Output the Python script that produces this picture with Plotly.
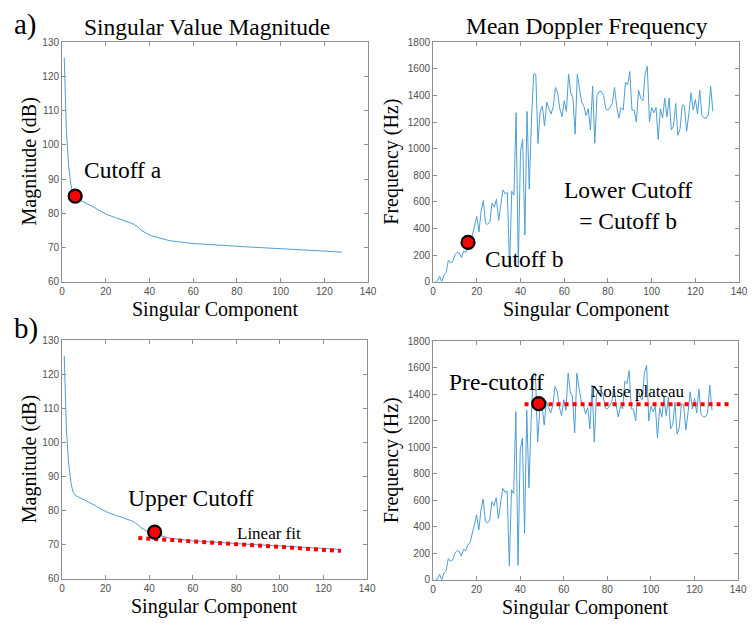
import plotly.graph_objects as go

W, H = 754, 625

# Singular component index (1..128)
components = list(range(1, 129))

# Singular value magnitude (dB) per component
magnitude_db = [
    125.5, 104.0, 94.0, 88.5, 85.5, 84.6, 84.2, 83.9, 83.6, 83.3,
    83.0, 82.7, 82.4, 82.1, 81.6, 81.2, 80.8, 80.4, 80.1, 79.8,
    79.5, 79.2, 79.0, 78.8, 78.6, 78.4, 78.2, 78.0, 77.7, 77.4,
    77.2, 77.0, 76.7, 76.3, 75.8, 75.1, 74.7, 74.3, 73.9, 73.6,
    73.4, 73.2, 73.0, 72.8, 72.6, 72.4, 72.2, 72.1, 72.0, 71.9,
    71.8, 71.7, 71.6, 71.5, 71.45, 71.4, 71.3, 71.25, 71.2, 71.15,
    71.1, 71.05, 71.0, 70.97, 70.94, 70.9, 70.87, 70.84, 70.8, 70.77,
    70.73, 70.7, 70.66, 70.62, 70.58, 70.54, 70.5, 70.45, 70.4, 70.35,
    70.3, 70.26, 70.22, 70.18, 70.14, 70.1, 70.06, 70.02, 69.98, 69.94,
    69.9, 69.86, 69.82, 69.78, 69.74, 69.7, 69.66, 69.62, 69.58, 69.54,
    69.5, 69.47, 69.44, 69.41, 69.38, 69.35, 69.32, 69.29, 69.26, 69.23,
    69.2, 69.17, 69.14, 69.11, 69.08, 69.05, 69.02, 68.99, 68.96, 68.93,
    68.9, 68.86, 68.82, 68.78, 68.74, 68.7, 68.65, 68.6,
]

# Mean Doppler frequency (Hz) per component
doppler_hz = [
    0, 5, 40, 0, 50, 70, 160, 140, 150, 200,
    220, 215, 180, 230, 220, 265, 280, 350, 400, 490,
    375, 530, 610, 440, 430, 450, 590, 560, 620, 460,
    580, 690, 660, 670, 105, 680, 650, 1270, 110, 980,
    1070, 350, 1280, 695, 1200, 1560, 1560, 1040, 1280, 1320,
    1170, 1350, 1300, 1260, 1320, 1460, 1420, 1300, 1240, 1360,
    1280, 1560, 1420, 1380, 1110, 1560, 1450, 1350, 1320, 1250,
    1300, 1140, 1470, 1040, 1400, 1430, 1430, 1400, 1300, 1290,
    1310, 1340, 1460, 1320, 1230, 1310, 1290, 1500, 1480, 1580,
    1290, 1290, 1200, 1440, 1380, 1360, 1560, 1620, 1200, 1310,
    1270, 1310, 1070, 1300, 1230, 1380, 1240, 1380, 1140, 1170,
    1340, 1100, 1150, 1330, 1320, 1130, 1260, 1420, 1290, 1370,
    1260, 1440, 1250, 1230, 1230, 1260, 1470, 1280,
]

# Marked cutoff points
cutoff_a = (6, 85.0)
cutoff_b = (16, 295)
upper_cutoff = (42.5, 73.7)
pre_cutoff = (48.5, 1330)

# Linear fit to the magnitude tail and the Doppler noise plateau
fit_x = [35, 128]
fit_y = [72.0, 68.2]
plateau_x = [42, 136]
plateau_y = [1325, 1325]

x_ticks = [0, 20, 40, 60, 80, 100, 120, 140]
mag_ticks = [60, 70, 80, 90, 100, 110, 120, 130]
freq_ticks = [0, 200, 400, 600, 800, 1000, 1200, 1400, 1600, 1800]

LINE = "rgb(77,158,214)"
FRAME = "#8f8f8f"
TICKTXT = "#505050"
SERIF = "Liberation Serif, Times New Roman, serif"
SANS = "Liberation Sans, Arial, sans-serif"


def px_x(x):
    return x / W


def px_y(y):
    return 1 - y / H


# panel boxes in pixels: (left, right, top, bottom)
boxes = {
    1: (60, 371, 37, 281),
    2: (437, 748, 37, 281),
    3: (60, 370, 341, 584),
    4: (437, 747, 342, 585),
}

fig = go.Figure()

layout = dict(
    width=W, height=H,
    margin=dict(l=0, r=0, t=0, b=0),
    paper_bgcolor="white", plot_bgcolor="white",
    showlegend=False,
)


def axis_common():
    return dict(
        showgrid=False, zeroline=False,
        showline=True, linecolor=FRAME, linewidth=1, mirror="ticks",
        ticks="inside", ticklen=4, tickcolor=FRAME, tickwidth=1,
        tickfont=dict(family=SANS, size=10, color=TICKTXT),
    )


for i, (l, r, t, b) in boxes.items():
    sfx = "" if i == 1 else str(i)
    xa = axis_common()
    xa.update(domain=[px_x(l), px_x(r)], range=[0, 140], tickvals=x_ticks,
              anchor="y" + sfx)
    ya = axis_common()
    if i in (1, 3):
        ya.update(range=[60, 130], tickvals=mag_ticks)
    else:
        ya.update(range=[0, 1800], tickvals=freq_ticks)
    ya.update(domain=[px_y(b), px_y(t)], anchor="x" + sfx)
    layout["xaxis" + sfx] = xa
    layout["yaxis" + sfx] = ya


def add_curve(i, y):
    sfx = "" if i == 1 else str(i)
    fig.add_trace(go.Scatter(x=components, y=y, mode="lines",
                             line=dict(color=LINE, width=1),
                             xaxis="x" + sfx, yaxis="y" + sfx))


def add_dot(i, pt):
    sfx = "" if i == 1 else str(i)
    fig.add_trace(go.Scatter(x=[pt[0]], y=[pt[1]], mode="markers",
                             marker=dict(color="red", size=13,
                                         line=dict(color="black", width=2.2)),
                             xaxis="x" + sfx, yaxis="y" + sfx))


def add_dotted(i, xs, ys):
    sfx = "" if i == 1 else str(i)
    fig.add_trace(go.Scatter(x=xs, y=ys, mode="lines",
                             line=dict(color="red", width=4, dash="dot"),
                             xaxis="x" + sfx, yaxis="y" + sfx))


add_curve(1, magnitude_db)
add_dot(1, cutoff_a)

add_curve(2, doppler_hz)
add_dot(2, cutoff_b)

add_curve(3, magnitude_db)
add_dotted(3, fit_x, fit_y)
add_dot(3, upper_cutoff)

add_curve(4, doppler_hz)
add_dotted(4, plateau_x, plateau_y)
add_dot(4, pre_cutoff)

annotations = []


def paper_text(text, x, y, size, angle=0):
    annotations.append(dict(text=text, x=px_x(x), y=px_y(y), xref="paper",
                            yref="paper", showarrow=False, textangle=angle,
                            xanchor="center", yanchor="middle",
                            font=dict(family=SERIF, size=size, color="black")))


def data_text(i, text, x, y, size):
    sfx = "" if i == 1 else str(i)
    annotations.append(dict(text=text, x=x, y=y, xref="x" + sfx, yref="y" + sfx,
                            showarrow=False, xanchor="center", yanchor="middle",
                            font=dict(family=SERIF, size=size, color="black")))


# panel labels and titles
paper_text("a)", 23, 19, 29)
paper_text("b)", 23, 329, 29)
paper_text("Singular Value Magnitude", 207, 21, 23.5)
paper_text("Mean Doppler Frequency", 593, 20, 23.5)

# axis titles
for i, (l, r, t, b) in boxes.items():
    paper_text("Singular Component", (l + r) / 2, b + 28, 20)
    if i in (1, 3):
        paper_text("Magnitude (dB)", l - 33, (t + b) / 2, 20, -90)
    else:
        paper_text("Frequency (Hz)", l - 42, (t + b) / 2, 20, -90)

# callouts
data_text(1, "Cutoff a", 28, 92.7, 23.5)
data_text(2, "Lower Cutoff<br>= Cutoff b", 89, 575, 23.5)
data_text(2, "Cutoff b", 42, 170, 23.5)
data_text(3, "Upper Cutoff", 59.4, 83.6, 23.5)
data_text(3, "Linear fit", 95, 73.3, 17)
data_text(4, "Pre-cutoff", 29.3, 1496, 23.5)
data_text(4, "Noise plateau", 93.6, 1422, 17)

layout["annotations"] = annotations
fig.update_layout(**layout)

fig.write_html("out.html")
